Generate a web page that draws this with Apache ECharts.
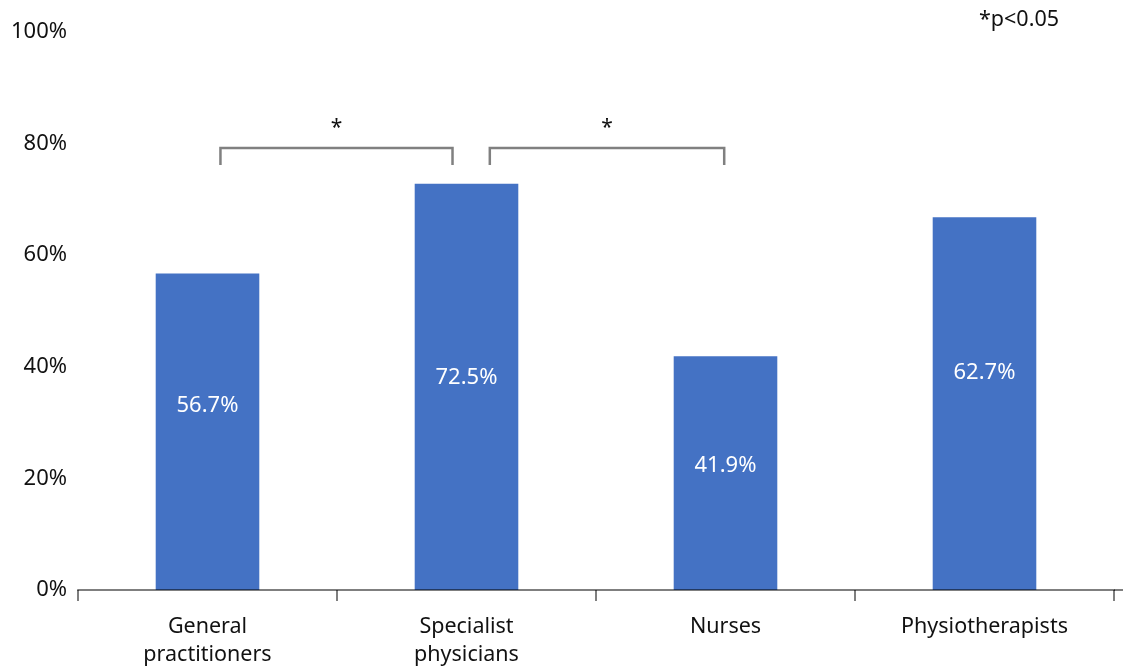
<!DOCTYPE html>
<html>
<head>
<meta charset="utf-8">
<script src="https://cdn.jsdelivr.net/npm/echarts@6/dist/echarts.min.js"></script>
<style>
html,body{margin:0;padding:0;background:#fff;}
#chart{width:1123px;height:669px;}
</style>
</head>
<body>
<div id="chart"></div>
<script>
// ---- data ----
const categories = ['General\npractitioners', 'Specialist\nphysicians', 'Nurses', 'Physiotherapists'];
const barValues = [56.7, 72.8, 41.9, 66.8];          // bar heights (%)
const barLabels = ['56.7%', '72.5%', '41.9%', '62.7%']; // printed labels
const yTicks = [0, 20, 40, 60, 80, 100];
// significance brackets: from category index to category index, at value y (%)
const brackets = [
  { from: 0, to: 1, y: 79.2, text: '*' },
  { from: 1, to: 2, y: 79.2, text: '*' }
];
const noteText = '*p<0.05';

// ---- styling helpers ----
const FONT = 'Noto Sans';
const labelOffsets = [[0, -26], [0, -9], [0, -7], [0, -31]];
// bracket end shifts in fraction of band width
const bracketShift = [[0.05, -0.054], [0.09, -0.005]];
const AXIS_COLOR = 'rgba(0,0,0,0.5)';

const chart = echarts.init(document.getElementById('chart'));
const option = {
  backgroundColor: '#ffffff',
  animation: false,
  textStyle: { fontFamily: FONT },
  grid: { left: 78, right: 9, top: 32, bottom: 79, containLabel: false },
  xAxis: {
    type: 'category',
    data: categories,
    z: 5,
    axisLine: { lineStyle: { color: AXIS_COLOR, width: 2 } },
    axisTick: { show: true, length: 11, lineStyle: { color: AXIS_COLOR, width: 2 } },
    axisLabel: { color: '#111', fontSize: 21.5, fontFamily: FONT, margin: 23, lineHeight: 28, interval: 0 }
  },
  yAxis: {
    type: 'value',
    min: 0, max: 100, interval: 20,
    axisLine: { show: false },
    axisTick: { show: false },
    splitLine: { show: false },
    axisLabel: { color: '#111', fontSize: 22, fontFamily: FONT, margin: 11,
      formatter: v => yTicks.includes(v) ? v + '%' : '' }
  },
  series: [
    {
      type: 'bar',
      barWidth: '40%',
      itemStyle: { color: '#4472C4' },
      data: barValues.map((v, i) => ({
        value: v,
        label: {
          show: true, position: 'inside', offset: labelOffsets[i],
          formatter: barLabels[i], color: '#fff', fontSize: 22, fontFamily: FONT
        }
      }))
    },
    {
      type: 'custom',
      z: 6,
      data: brackets.map((b, i) => [b.from, b.to, b.y, i]),
      renderItem: function (params, api) {
        const i = api.value(3);
        const band = api.size([1, 0])[0];
        const p1 = api.coord([api.value(0), api.value(2)]);
        const p2 = api.coord([api.value(1), api.value(2)]);
        const x1 = p1[0] + bracketShift[i][0] * band;
        const x2 = p2[0] + bracketShift[i][1] * band;
        const y = p1[1];
        const leg = 17;
        return {
          type: 'group',
          children: [
            { type: 'polyline', shape: { points: [[x1, y + leg], [x1, y], [x2, y], [x2, y + leg]] },
              style: { stroke: '#808080', lineWidth: 2.5, fill: null } },
            { type: 'text', style: { text: brackets[i].text, x: (x1 + x2) / 2, y: y - 20,
              align: 'center', verticalAlign: 'middle', fontSize: 21, fontFamily: FONT, fill: '#111' } }
          ]
        };
      }
    }
  ],
  graphic: [
    { type: 'text', right: 64, top: 9, style: { text: noteText, fontSize: 21.5, fontFamily: FONT, fill: '#111' } }
  ]
};
chart.setOption(option);
// extend the baseline to the right edge of the picture, as in the original
const y0 = chart.convertToPixel({ yAxisIndex: 0 }, 0);
const xEnd = chart.getWidth() - option.grid.right;
chart.setOption({
  graphic: [
    option.graphic[0],
    { type: 'line', z: 10, shape: { x1: xEnd, y1: y0, x2: chart.getWidth(), y2: y0 },
      style: { stroke: AXIS_COLOR, lineWidth: 2 } }
  ]
});
</script>
</body>
</html>
